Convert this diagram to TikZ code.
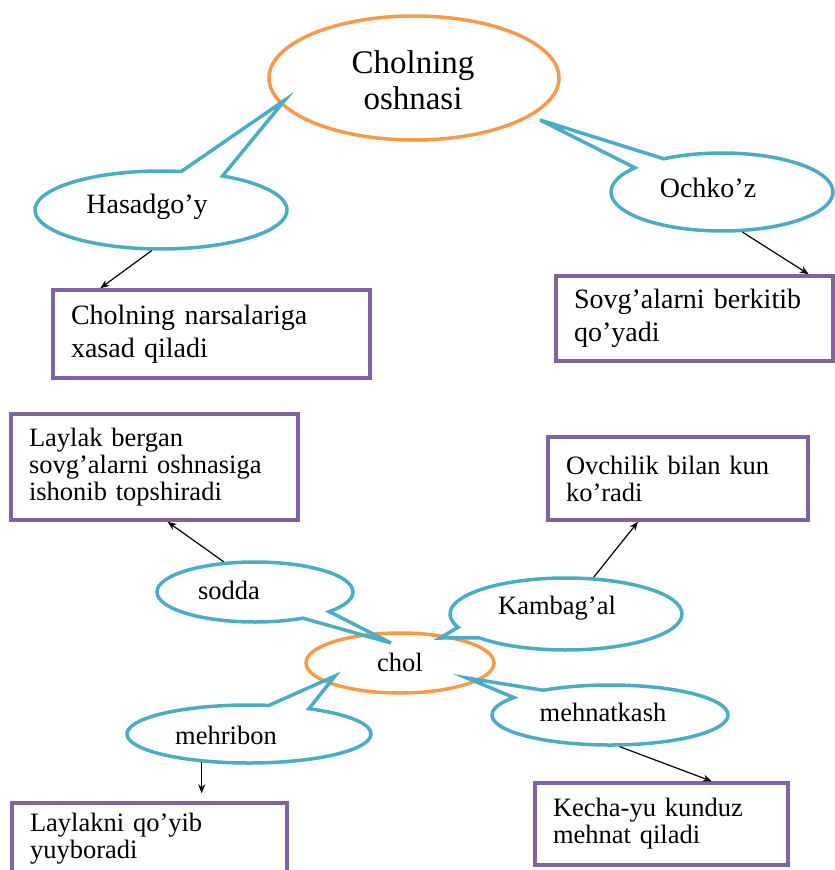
\documentclass[tikz,border=0pt]{standalone}
\usepackage{fontspec}
\setmainfont{Liberation Serif}
\usepackage{tikz}
\usetikzlibrary{shapes.geometric}
\usetikzlibrary{shapes.callouts}
\usetikzlibrary{arrows.meta}
\definecolor{ovalorange}{HTML}{F79A4A}
\definecolor{bubbleblue}{HTML}{4BACC6}
\definecolor{cardpurple}{HTML}{8064A2}
\tikzset{oval/.style={draw=ovalorange, line width=3.5pt, ellipse, inner sep=0}}
\tikzset{bubble/.style={draw=bubbleblue, line width=3.5pt, ellipse callout, callout pointer arc=20, inner sep=0}}
\tikzset{card/.style={draw=cardpurple, line width=3.5pt, inner xsep=18pt, align=left}}
\tikzset{word/.style={inner sep=0}}
\tikzset{every edge/.style={draw, line width=1.2pt}}
\tikzset{>={Stealth[length=9pt, width=7pt]}}
\newcommand{\bigsize}{\fontsize{33}{36}\selectfont}
\newcommand{\topsize}{\fontsize{28}{33}\selectfont}
\newcommand{\lowsize}{\fontsize{26.5}{27}\selectfont}

\begin{document}
\begin{tikzpicture}[x=1pt, y=-1pt]
    \useasboundingbox (0, 0) rectangle (835, 870);

    % upper half
    \node[oval, minimum width=290, minimum height=124] at (414, 78) (oshna) {};
    \node[word, align=center, font=\bigsize] at (413, 80) (oshnaT) {Cholning\\oshnasi};

    \node[bubble, minimum width=252, minimum height=78, callout absolute pointer={(285, 100)}] at (161, 210) (hasad) {};
    \node[word, font=\topsize] at (147, 207) (hasadT) {Hasadgo’y};
    \node[bubble, minimum width=222, minimum height=78, callout absolute pointer={(540, 120)}] at (722, 192) (ochko) {};
    \node[word, font=\topsize] at (708, 188) (ochkoT) {Ochko’z};

    \node[card, text width=281, minimum height=88, font=\topsize] at (211.5, 334) (xasad) {Cholning narsalariga\\xasad qiladi};
    \node[card, text width=241, minimum height=85, font=\topsize] at (694.5, 318.5) (berk) {Sovg’alarni berkitib\\qo’yadi};

    \draw (hasad.257) edge[->] ([xshift=49pt]xasad.north west);
    \draw (ochko.-63) edge[->] ([xshift=-26pt]berk.north east);

    % lower half
    \node[oval, minimum width=188, minimum height=60] at (400, 663) (chol) {};
    \node[word, font=\lowsize] at (400, 662) (cholT) {chol};

    \node[bubble, minimum width=196, minimum height=60, callout absolute pointer={(391, 643)}] at (255, 592) (sodda) {};
    \node[word, font=\lowsize] at (229, 590) (soddaT) {sodda};
    \node[bubble, minimum width=232, minimum height=72, callout absolute pointer={(440, 638)}] at (566, 614) (kamb) {};
    \node[word, font=\lowsize] at (557, 608) (kambT) {Kambag’al};
    \node[bubble, minimum width=244, minimum height=58, callout absolute pointer={(335, 676)}] at (249, 734) (mehri) {};
    \node[word, font=\lowsize] at (226, 735) (mehriT) {mehribon};
    \node[bubble, minimum width=236, minimum height=60, callout absolute pointer={(467, 678)}] at (610, 715) (mehnat) {};
    \node[word, font=\lowsize] at (603, 712) (mehnatT) {mehnatkash};

    \node[card, text width=251, minimum height=106, font=\lowsize] at (154.5, 467) (topsh) {Laylak bergan\\sovg’alarni oshnasiga\\ishonib topshiradi};
    \node[card, text width=224, minimum height=83, font=\lowsize] at (678, 478.5) (kora) {Ovchilik bilan kun\\ko’radi};
    \node[card, text width=239, minimum height=72, font=\lowsize] at (149.5, 839) (yuybor) {Laylakni qo’yib\\yuyboradi};
    \node[card, text width=217, minimum height=82, font=\lowsize] at (661.5, 824) (kecha) {Kecha-yu kunduz\\mehnat qiladi};

    \draw (sodda.136) edge[->] ([xshift=13pt]topsh.south);
    \draw (kamb.53) edge[->] ([xshift=-40pt]kora.south);
    \draw (mehri.211) edge[->, shorten >=8pt] (mehri.211 |- yuybor.north);
    \draw (mehnat.-73) edge[->] ([xshift=-78pt]kecha.north east);
  \end{tikzpicture}
\end{document}
